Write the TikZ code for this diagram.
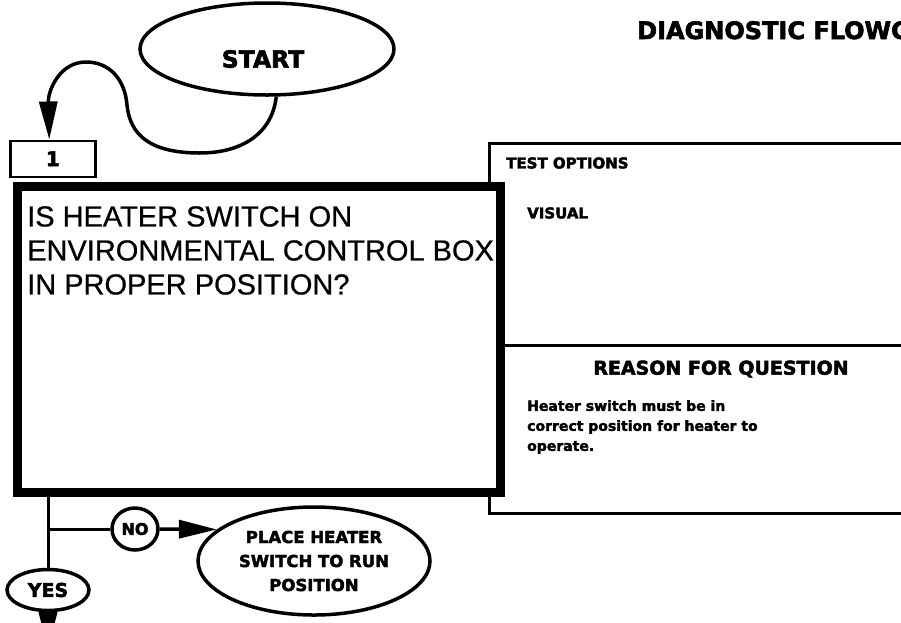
\documentclass[tikz,border=0pt]{standalone}
\usepackage{fontspec}
\setmainfont{Liberation Sans}[UprightFeatures={FakeBold=0.6}]
\newfontfamily\dvs{DejaVu Sans}[BoldFeatures={FakeBold=2.5}]
\usetikzlibrary{shapes.geometric,arrows.meta,calc}
\begin{document}
\begin{tikzpicture}[x=1pt,y=-1pt,
  thinline/.style={line width=3pt},
  oval/.style={draw, ellipse, line width=3.5pt, inner sep=0pt},
  bigarrow/.style={-{Triangle[length=38pt,width=18pt]}, line width=3.5pt},
  boldtxt/.style={font=\dvs\bfseries\fontsize{#1}{#1}\selectfont},
]
\useasboundingbox (0,0) rectangle (901,622);
\clip (0,0) rectangle (901,622);
\fill[white] (0,0) rectangle (901,622);

% title
\node[anchor=base west, inner sep=0pt, boldtxt=24] (title) at (637,39) {DIAGNOSTIC FLOWC};

% start
\node[oval, minimum width=254pt, minimum height=92pt] (start) at (267,49) {};
\node[inner sep=0pt, boldtxt=23.5] (startlbl) at (263,59) {START};

% right panel
\draw[thinline] (901,143) -- (489,143) -- (489,513) -- (901,513);
\draw[thinline] (497,345) -- (901,345);
\node[anchor=west, inner sep=0pt, boldtxt=15] (testopt) at (506,163) {TEST OPTIONS};
\node[anchor=west, inner sep=0pt, boldtxt=15] (visual) at (527,213) {VISUAL};
\node[inner sep=0pt, boldtxt=19] (reason) at (721,369) {REASON FOR QUESTION};
\node[anchor=north west, align=left, inner sep=0pt, font=\dvs\bfseries\fontsize{14}{20}\selectfont] (reasontxt) at (527,400) {Heater switch must be in\\correct position for heater to\\operate.};

% box 1 and big box
\node[draw, fill=white, line width=2.5pt, minimum width=85pt, minimum height=36pt, anchor=south west, inner sep=0pt, boldtxt=20] (box1) at (9,178) {1};
\node[draw, fill=white, line width=9pt, minimum width=483pt, minimum height=306pt, inner sep=0pt, anchor=north west] (q1) at (13,182) {};
\node[anchor=north west, align=left, inner sep=0pt, font=\fontsize{29}{34}\selectfont] (qtext) at (27,206) {IS HEATER SWITCH ON\\ENVIRONMENTAL CONTROL BOX\\IN PROPER POSITION?};

% start connector
\draw[bigarrow] (start.-79) .. controls (272,135) and (240,153) .. (200,153)
  .. controls (150,153) and (130,135) .. (127,105)
  .. controls (125,80) and (110,62) .. (86,62)
  .. controls (60,62) and (48,90) .. ($(box1.north)+(-3.5,0)$);

% lower flow
\node[oval, minimum width=82pt, minimum height=41pt, boldtxt=19] (yes) at (48,590) {YES};
\node[oval, minimum width=46pt, minimum height=42pt, boldtxt=16] (no) at (135,529) {NO};
\node[oval, minimum width=232pt, minimum height=108pt, align=center, font=\dvs\bfseries\fontsize{16.5}{24}\selectfont] (place) at (314,561) {PLACE HEATER\\SWITCH TO RUN\\POSITION};
\coordinate (br) at (no.west -| yes.north);
\coordinate (yesout) at (48,650);
\draw[thinline] (q1.south west -| yes.north) -- (yes.north);
\draw[thinline] (br) -- (no.west);
\draw[bigarrow] (no.east) -- (place.162);
\draw[bigarrow] (yes.south) -- (yesout);
\end{tikzpicture}
\end{document}
